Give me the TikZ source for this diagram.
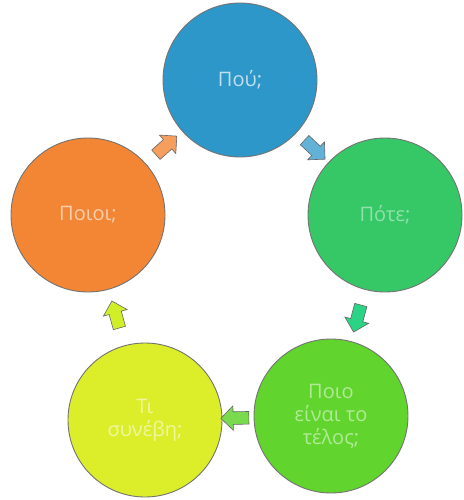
\documentclass[tikz,border=0pt]{standalone}
\usepackage{fontspec}
\setsansfont{Open Sans}
\usetikzlibrary{shapes.arrows}

\definecolor{pouc}{HTML}{2E97C9}
\definecolor{potec}{HTML}{36C866}
\definecolor{telosc}{HTML}{62D42E}
\definecolor{sync}{HTML}{DCEE2A}
\definecolor{poioic}{HTML}{F38634}

\begin{document}
\begin{tikzpicture}[x=1pt, y=-1pt,
  every node/.style={font=\sffamily\fontsize{20}{23}\selectfont},
  ball/.style={circle, draw=black!55, line width=0.9pt, minimum size=154pt, inner sep=0pt, align=center},
  turn/.style={single arrow, draw=black!60, line width=0.6pt, minimum height=28pt, inner sep=6pt,
    single arrow head extend=6pt, sloped, allow upside down, midway}]
\useasboundingbox (0,0) rectangle (463,500);

% ---------- the five questions, clockwise from the top ----------
\node[ball, fill=pouc, text=white!70!pouc] (pou) at (240,80) {Πού;};
\node[ball, fill=potec, text=white!45!potec] (pote) at (385,215) {Πότε;};
\node[ball, fill=telosc, text=white!50!telosc] (telos) at (331,416) {Ποιο\\είναι το\\τέλος;};
\node[ball, fill=sync, text=white!55!sync] (syn) at (145,420) {Τι\\συνέβη;};
\node[ball, fill=poioic, text=white!60!poioic] (poioi) at (88,215) {Ποιοι;};

% ---------- block arrows in the gaps ----------
\path (pou) -- (pote) node[turn, fill=pouc!75!white] (a1) {};
\path (pote) -- (telos) node[turn, fill=potec!80!cyan] (a2) {};
\path (telos) -- (syn) node[turn, fill=telosc!85!white] (a3) {};
\path (syn) -- (poioi) node[turn, fill=sync!95!green] (a4) {};
\path (poioi) -- (pou) node[turn, fill=poioic!80!white] (a5) {};

\end{tikzpicture}
\end{document}
